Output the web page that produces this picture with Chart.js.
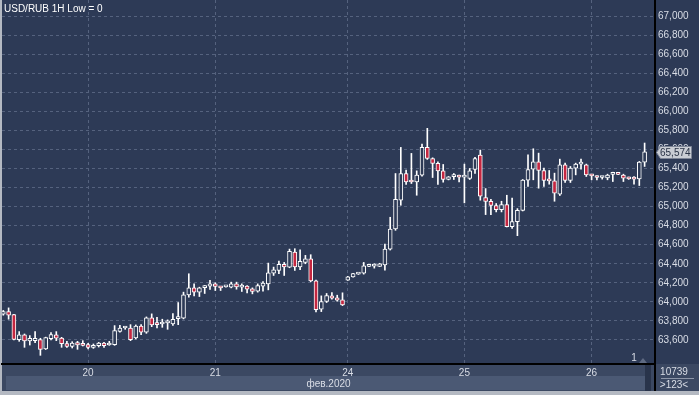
<!DOCTYPE html>
<html>
<head>
<meta charset="utf-8">
<script src="https://cdn.jsdelivr.net/npm/chart.js@4.4.1/dist/chart.umd.min.js"></script>
<style>
    html, body { margin: 0; padding: 0; background: #2d3a56; }
    #wrap { width: 699px; height: 395px; }
</style>
</head>
<body>
<div id="wrap"><canvas id="candles" width="699" height="395"></canvas></div>
<script>
// Свечи USD/RUB 1H, индекс = номер бара
const opens = [
    63.870, 63.898, 63.867, 63.604, 63.653, 63.589, 63.593, 63.604, 63.505, 63.614,
    63.653, 63.621, 63.561, 63.533, 63.572, 63.547, 63.551, 63.523, 63.540, 63.568,
    63.547, 63.551, 63.691, 63.726, 63.726, 63.621, 63.747, 63.681, 63.832, 63.765,
    63.768, 63.780, 63.768, 63.825, 63.828, 64.074, 64.147, 64.102, 64.150, 64.165,
    64.189, 64.150, 64.158, 64.154, 64.189, 64.154, 64.165, 64.137, 64.112, 64.165,
    64.189, 64.302, 64.330, 64.393, 64.365, 64.523, 64.368, 64.414, 64.453, 64.221,
    63.923, 64.004, 64.063, 64.042, 64.021, 64.228, 64.263, 64.291, 64.302, 64.372,
    64.375, 64.372, 64.389, 64.554, 64.765, 65.067, 65.347, 65.262, 65.260, 65.330,
    65.621, 65.505, 65.453, 65.375, 65.284, 65.314, 65.312, 65.310, 65.295, 65.389,
    65.540, 65.095, 65.056, 65.011, 64.968, 65.021, 64.789, 64.842, 64.961, 65.277,
    65.393, 65.470, 65.379, 65.272, 65.270, 65.130, 65.439, 65.274, 65.404, 65.446,
    65.439, 65.325, 65.306, 65.305, 65.302, 65.338, 65.340, 65.330, 65.305, 65.305,
    65.291, 65.467
];
const highs = [
    63.910, 63.937, 63.870, 63.688, 63.663, 63.646, 63.688, 63.618, 63.630, 63.677,
    63.688, 63.628, 63.586, 63.582, 63.586, 63.593, 63.565, 63.558, 63.575, 63.575,
    63.586, 63.751, 63.754, 63.740, 63.761, 63.758, 63.761, 63.842, 63.874, 63.839,
    63.818, 63.811, 63.877, 63.993, 64.102, 64.295, 64.189, 64.154, 64.172, 64.225,
    64.200, 64.161, 64.165, 64.207, 64.207, 64.189, 64.172, 64.147, 64.189, 64.214,
    64.407, 64.365, 64.428, 64.414, 64.554, 64.558, 64.547, 64.488, 64.495, 64.228,
    64.063, 64.088, 64.098, 64.070, 64.095, 64.268, 64.300, 64.298, 64.414, 64.382,
    64.400, 64.405, 64.607, 64.888, 65.347, 65.621, 65.382, 65.558, 65.375, 65.656,
    65.821, 65.512, 65.470, 65.442, 65.316, 65.347, 65.330, 65.446, 65.400, 65.516,
    65.593, 65.189, 65.077, 65.032, 65.056, 65.119, 65.088, 64.979, 65.284, 65.544,
    65.607, 65.561, 65.404, 65.379, 65.351, 65.498, 65.456, 65.421, 65.456, 65.498,
    65.446, 65.340, 65.323, 65.316, 65.340, 65.361, 65.342, 65.340, 65.310, 65.316,
    65.474, 65.667
];
const lows = [
    63.860, 63.818, 63.600, 63.586, 63.523, 63.547, 63.572, 63.439, 63.500, 63.600,
    63.593, 63.523, 63.523, 63.516, 63.502, 63.537, 63.505, 63.512, 63.526, 63.523,
    63.544, 63.544, 63.681, 63.712, 63.593, 63.611, 63.656, 63.670, 63.740, 63.726,
    63.733, 63.712, 63.754, 63.761, 63.821, 64.049, 64.063, 64.056, 64.088, 64.130,
    64.119, 64.119, 64.154, 64.147, 64.133, 64.109, 64.095, 64.084, 64.102, 64.112,
    64.126, 64.277, 64.295, 64.277, 64.358, 64.330, 64.337, 64.400, 64.211, 63.895,
    63.898, 63.993, 64.028, 64.007, 63.961, 64.225, 64.260, 64.288, 64.291, 64.370,
    64.354, 64.370, 64.333, 64.544, 64.751, 65.014, 65.232, 65.242, 65.119, 65.319,
    65.495, 65.305, 65.232, 65.256, 65.280, 65.284, 65.260, 65.039, 65.284, 65.347,
    65.067, 64.916, 64.916, 64.944, 64.944, 64.786, 64.770, 64.695, 64.954, 65.211,
    65.281, 65.193, 65.211, 65.235, 65.056, 65.116, 65.253, 65.253, 65.333, 65.393,
    65.316, 65.281, 65.281, 65.288, 65.281, 65.263, 65.335, 65.263, 65.285, 65.235,
    65.221, 65.421
];
const closes = [
    63.898, 63.860, 63.607, 63.653, 63.589, 63.618, 63.618, 63.502, 63.625, 63.656,
    63.618, 63.561, 63.533, 63.568, 63.547, 63.544, 63.523, 63.544, 63.568, 63.540,
    63.558, 63.698, 63.726, 63.728, 63.604, 63.747, 63.681, 63.832, 63.758, 63.762,
    63.770, 63.783, 63.818, 63.832, 64.074, 64.147, 64.102, 64.147, 64.154, 64.189,
    64.161, 64.147, 64.161, 64.189, 64.158, 64.165, 64.133, 64.109, 64.172, 64.196,
    64.305, 64.337, 64.393, 64.368, 64.530, 64.368, 64.425, 64.453, 64.221, 63.919,
    64.004, 64.067, 64.039, 64.018, 63.968, 64.263, 64.298, 64.295, 64.379, 64.379,
    64.377, 64.400, 64.554, 64.765, 65.077, 65.347, 65.260, 65.258, 65.330, 65.621,
    65.505, 65.453, 65.375, 65.284, 65.312, 65.316, 65.310, 65.313, 65.375, 65.505,
    65.109, 65.053, 65.011, 64.968, 65.021, 64.789, 64.842, 64.961, 65.277, 65.389,
    65.470, 65.379, 65.274, 65.270, 65.140, 65.439, 65.274, 65.404, 65.446, 65.448,
    65.333, 65.323, 65.305, 65.307, 65.330, 65.340, 65.338, 65.298, 65.291, 65.288,
    65.467, 65.574
];

// Подписи оси времени (бар, с которого начинается день)
const dayTicks = [16, 40, 65, 87, 111];
const dayLabels = ['20', '21', '24', '25', '26'];
const monthLabel = 'фев.2020';

// Подписи оси цены
const priceTicks = [63.6, 63.8, 64.0, 64.2, 64.4, 64.6, 64.8, 65.0, 65.2, 65.4, 65.6, 65.8, 66.0, 66.2, 66.4, 66.6, 66.8, 67.0];

const titleText = 'USD/RUB 1H Low = 0';
const barsTotal = '10739';
const barsShown = '>123<';

const bgColor = '#2d3a56';
const downColor = '#c42640';
const textColor = '#d9dde6';
const fontFamily = 'Arial, "Liberation Sans", sans-serif';
const fontSize = 10;

Chart.defaults.font.family = fontFamily;
Chart.defaults.font.size = fontSize;

const fmtPrice = (v) => v.toFixed(3).replace('.', ',');

const wickData = lows.map((l, i) => ({ x: i, y: [l, highs[i]] }));
const bodyData = opens.map((o, i) => ({ x: i, y: [Math.min(o, closes[i]), Math.max(o, closes[i])] }));
const bodyColors = opens.map((o, i) => closes[i] < o ? downColor : bgColor);

// Фон, нижняя полоса и подписи поверх графика
const decor = {
    id: 'decor',
    beforeDraw(chart) {
        const ctx = chart.ctx;
        const a = chart.chartArea;
        ctx.save();
        ctx.fillStyle = bgColor;
        ctx.fillRect(0, 0, chart.width, chart.height);
        // полоса дат
        ctx.fillStyle = '#3b4862';
        ctx.fillRect(0, a.bottom, chart.width, 391 - a.bottom);
        ctx.fillStyle = '#4b5974';
        ctx.fillRect(6, a.bottom + 12, 639, 391 - a.bottom - 13);
        ctx.fillStyle = '#29344b';
        ctx.fillRect(645, a.bottom + 1, 6, 391 - a.bottom - 1);
        // рамка
        ctx.fillStyle = '#b4b9c2';
        ctx.fillRect(0, 0, 2, chart.height);
        ctx.fillRect(0, 391, chart.width, 4);
        ctx.restore();
    },
    afterDraw(chart) {
        const ctx = chart.ctx;
        const a = chart.chartArea;
        const y = chart.scales.y;
        ctx.save();
        ctx.font = fontSize + 'px ' + fontFamily;
        ctx.textBaseline = 'middle';

        ctx.fillStyle = '#ffffff';
        ctx.textAlign = 'left';
        ctx.fillText(titleText, 4, 9);

        // метка текущей цены
        const last = closes[closes.length - 1];
        const py = Math.round(y.getPixelForValue(last));
        ctx.fillStyle = '#c9cdd4';
        ctx.strokeStyle = '#7d8596';
        ctx.beginPath();
        ctx.moveTo(a.right + 1.5, py + 0.5);
        ctx.lineTo(a.right + 5.5, py - 5.5);
        ctx.lineTo(a.right + 36.5, py - 5.5);
        ctx.lineTo(a.right + 36.5, py + 6.5);
        ctx.lineTo(a.right + 5.5, py + 6.5);
        ctx.closePath();
        ctx.fill();
        ctx.stroke();
        ctx.fillStyle = '#2a3346';
        ctx.fillText(fmtPrice(last), a.right + 5, py + 1);

        // маркер внизу справа
        ctx.fillStyle = textColor;
        ctx.textAlign = 'center';
        ctx.fillText('1', 634, a.bottom - 6);
        ctx.fillStyle = '#5e6a82';
        ctx.beginPath();
        ctx.moveTo(639, a.bottom - 1);
        ctx.lineTo(643, a.bottom - 6);
        ctx.lineTo(647, a.bottom - 1);
        ctx.closePath();
        ctx.fill();

        // счётчик баров
        ctx.fillStyle = '#3b4862';
        ctx.fillRect(a.right + 1, a.bottom + 1, chart.width - a.right - 1, 391 - a.bottom - 1);
        ctx.fillStyle = '#000000';
        ctx.fillRect(a.right - 1, a.bottom, 2, 391 - a.bottom);
        ctx.fillStyle = textColor;
        ctx.fillText(barsTotal, 674, a.bottom + 8);
        ctx.fillText(barsShown, 674, a.bottom + 21);
        ctx.strokeStyle = '#8d96a8';
        ctx.beginPath();
        ctx.moveTo(661, a.bottom + 14.5);
        ctx.lineTo(694, a.bottom + 14.5);
        ctx.stroke();
        ctx.restore();
    }
};

const config = {
    type: 'bar',
    data: {
        datasets: [
            {
                label: 'wick',
                data: wickData,
                backgroundColor: '#ffffff',
                borderWidth: 0,
                barThickness: 1,
                grouped: false,
                order: 2
            },
            {
                label: 'body',
                data: bodyData,
                backgroundColor: bodyColors,
                borderColor: '#ffffff',
                borderWidth: 1,
                borderSkipped: false,
                barThickness: 4,
                minBarLength: 2,
                grouped: false,
                order: 1
            }
        ]
    },
    options: {
        responsive: false,
        animation: false,
        devicePixelRatio: 1,
        layout: { padding: { left: 2, right: 0, top: 0, bottom: 4 } },
        plugins: {
            legend: { display: false },
            tooltip: { enabled: false }
        },
        events: [],
        scales: {
            x: {
                type: 'linear',
                offset: false,
                min: -0.245,
                max: 122.96,
                afterBuildTicks(scale) {
                    scale.ticks = dayTicks.map(v => ({ value: v }));
                },
                afterFit(scale) {
                    scale.height = 27;
                    scale.paddingLeft = 0;
                    scale.paddingRight = 0;
                },
                ticks: {
                    autoSkip: false,
                    maxRotation: 0,
                    color: textColor,
                    padding: 3,
                    callback: (v) => dayLabels[dayTicks.indexOf(v)]
                },
                grid: { color: '#55627e', drawTicks: false, offset: false },
                border: { display: true, color: '#000000', width: 2, dash: [3, 3] },
                title: {
                    display: true,
                    text: monthLabel,
                    color: textColor,
                    padding: { top: 0, bottom: 1 }
                }
            },
            y: {
                position: 'right',
                min: 63.348,
                max: 67.168,
                afterBuildTicks(scale) {
                    scale.ticks = priceTicks.map(v => ({ value: v }));
                },
                afterFit(scale) {
                    scale.width = 44;
                    scale.paddingTop = 0;
                    scale.paddingBottom = 0;
                },
                ticks: {
                    color: textColor,
                    padding: 3,
                    callback: (v) => fmtPrice(v)
                },
                grid: { color: '#55627e', drawTicks: false },
                border: { display: true, color: '#000000', width: 2, dash: [3, 3] }
            }
        }
    },
    plugins: [decor]
};

const candleChart = new Chart(document.getElementById('candles'), config);
</script>
</body>
</html>
